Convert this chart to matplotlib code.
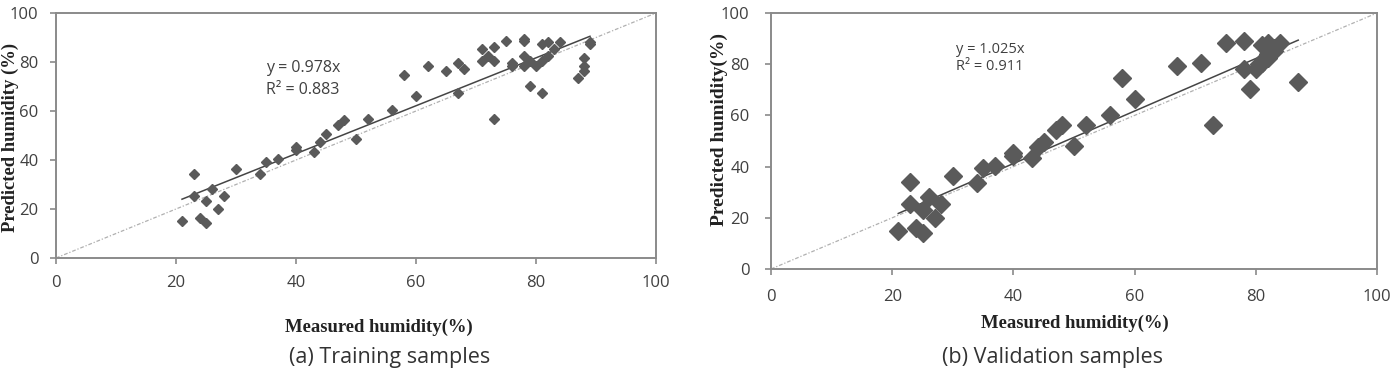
import numpy as np
import matplotlib
matplotlib.use('Agg')
import matplotlib.pyplot as plt

# training samples (measured, predicted)
train_x = [21, 23, 23, 24, 25, 25, 26, 27, 28, 30, 34, 35, 37, 40, 40, 43, 44, 45, 47, 48,
           50, 52, 56, 58, 60, 62, 65, 67, 67, 68, 71, 71, 72, 73, 73, 73, 75, 76, 76,
           78, 78, 78, 78, 79, 79, 80, 81, 81, 81, 82, 82, 83, 84, 87, 88, 88, 88, 89, 89]
train_y = [15, 34.4, 25.3, 16.2, 23.3, 14.3, 28.3, 20.1, 25.3, 36.2, 34.4, 39.2, 40.3, 45.2, 44, 43.4, 47.3, 50.5, 54.4, 56.3,
           48.4, 56.6, 60.4, 74.6, 66.2, 78.5, 76.2, 79.5, 67.5, 77.1, 85.3, 80.4, 82.4, 86.2, 80.4, 56.6, 88.4, 79.5, 78.5,
           89.4, 88.4, 82.6, 78.5, 80.4, 70.3, 78.5, 87.2, 80.4, 67.5, 88.3, 82.6, 85.3, 88.3, 73.4, 81.7, 78.5, 76.2, 88.3, 87.2]

# validation samples (measured, predicted)
valid_x = [21, 23, 23, 24, 25, 25, 26, 27, 28, 30, 34, 35, 37, 40, 40, 43, 44, 45, 47, 48,
           50, 52, 56, 58, 60, 67, 71, 73, 75, 78, 78, 79, 80, 80.5, 81, 81, 82, 82, 83, 83, 82, 84, 87]
valid_y = [15, 34.1, 25.4, 16.1, 13.9, 23, 28.2, 19.8, 25.4, 36.4, 33.7, 39.3, 40.2, 45.2, 44, 43.2, 47.8, 49.7, 54.3, 56.2,
           48.2, 56.2, 60.2, 74.5, 66.4, 79.3, 80.3, 56.2, 88.4, 89.2, 78.1, 70.2, 78, 80, 87.5, 80.6, 88.2, 82.5, 85.3, 86.2, 84, 88.4, 73.2]

# trend lines as drawn in the picture (end points)
train_trend_x = [21, 89]
train_trend_y = [24, 90.5]
valid_trend_x = [21, 87]
valid_trend_y = [21.7, 89.4]

ticks = [0, 20, 40, 60, 80, 100]

W, H = 1394, 369
fig = plt.figure(figsize=(W / 100, H / 100), dpi=100)

axis_gray = '#8a8a8a'
mark_gray = '#5a5a5a'
text_gray = '#404040'
serif = 'Liberation Serif'
sans = 'Open Sans'


def style_axes(ax, xpad, ypad):
    ax.set_xlim(0, 100)
    ax.set_ylim(0, 100)
    ax.set_xticks(ticks)
    ax.set_yticks(ticks)
    for s in ax.spines.values():
        s.set_color(axis_gray)
        s.set_linewidth(1.4)
    ax.tick_params(direction='out', length=4.5, width=1.2, color=axis_gray,
                   labelsize=12, labelcolor=text_gray)
    ax.tick_params(axis='x', pad=xpad)
    ax.tick_params(axis='y', pad=ypad)
    for lab in ax.get_xticklabels() + ax.get_yticklabels():
        lab.set_fontfamily(sans)


# (a) training
ax1 = fig.add_axes([56 / W, 1 - 258 / H, 600 / W, 245 / H])
ax1.plot([0, 100], [0, 100], color='#b0b0b0', lw=0.9, ls=(0, (3, 1.5, 1, 1.5)), zorder=1)
ax1.plot(train_x, train_y, ls='none', marker='D', ms=4.6, color=mark_gray, zorder=3)
ax1.plot(train_trend_x, train_trend_y, color='#454545', lw=1.1, zorder=2)
ax1.text(35, 77.5, 'y = 0.978x', fontsize=11.5, family=sans, color=text_gray, va='center')
ax1.text(35, 68.6, 'R² = 0.883', fontsize=11.5, family=sans, color=text_gray, va='center')
style_axes(ax1, 7.5, 8)

# (b) validation
ax2 = fig.add_axes([771 / W, 1 - 269 / H, 606 / W, 256 / H])
ax2.plot([0, 100], [0, 100], color='#b0b0b0', lw=0.9, ls=(0, (3, 1.5, 1, 1.5)), zorder=1)
ax2.plot(valid_x, valid_y, ls='none', marker='D', ms=9.5, color=mark_gray, zorder=3)
ax2.plot(valid_trend_x, valid_trend_y, color='#454545', lw=1.1, zorder=2)
ax2.text(30.5, 85.6, 'y = 1.025x', fontsize=10.5, family=sans, color=text_gray, va='center')
ax2.text(30.5, 79.2, 'R² = 0.911', fontsize=10.5, family=sans, color=text_gray, va='center')
style_axes(ax2, 10, 11)

# axis titles
fig.text(379 / W, 1 - 327 / H, 'Measured humidity(%)', family=serif, weight='bold',
         fontsize=13.4, ha='center', va='center', color='#222222')
fig.text(1075 / W, 1 - 323 / H, 'Measured humidity(%)', family=serif, weight='bold',
         fontsize=13.4, ha='center', va='center', color='#222222')
fig.text(10 / W, 1 - 137 / H, 'Predicted humidity (%)', family=serif, weight='bold',
         fontsize=13.4, ha='center', va='center', rotation=90, color='#222222')
fig.text(719 / W, 1 - 130 / H, 'Predicted humidity(%)', family=serif, weight='bold',
         fontsize=14, ha='center', va='center', rotation=90, color='#222222')

# captions along the lower edge
fig.text(390 / W, 1 / H, '(a) Training samples', family=sans, fontsize=15.5,
         ha='center', va='bottom', color='#333333')
fig.text(1052 / W, 1 / H, '(b) Validation samples', family=sans, fontsize=15.5,
         ha='center', va='bottom', color='#333333')

fig.savefig('out.png', dpi=100)
